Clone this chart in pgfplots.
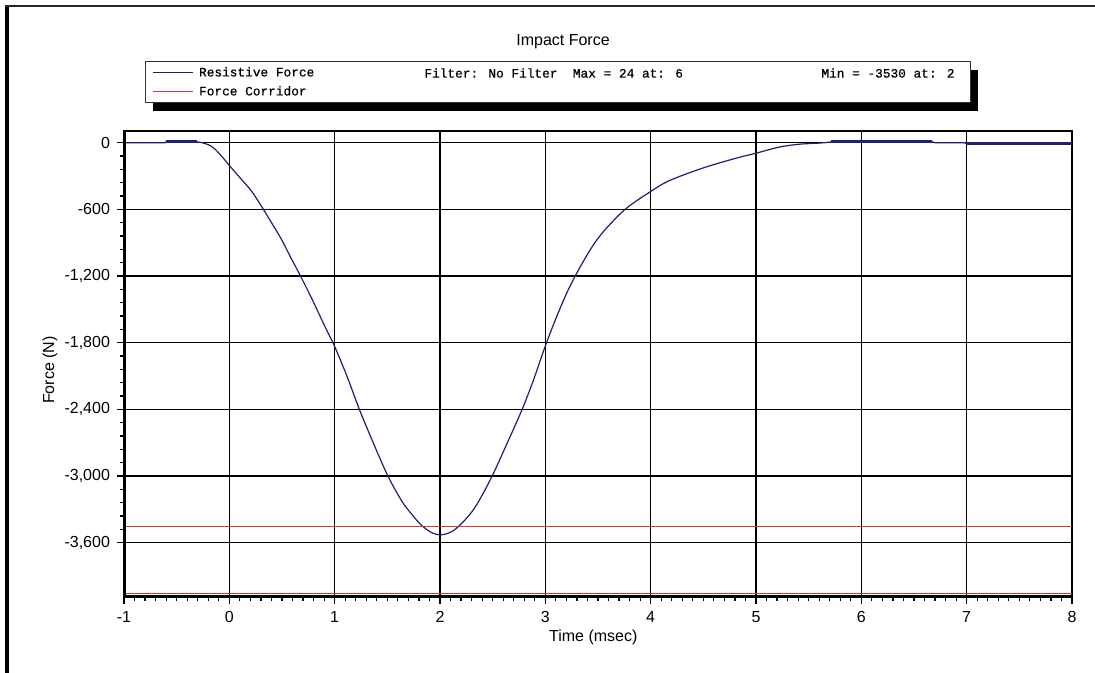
\documentclass[border=0pt]{standalone}
\usepackage{fontspec}
\setmainfont{Liberation Sans}
\newfontfamily\legfont[FakeBold=0.6]{Liberation Mono}
\usepackage{pgfplots}
\pgfplotsset{compat=1.18}
\definecolor{curveblue}{RGB}{30,30,115}
\definecolor{corrred}{RGB}{205,55,55}
\begin{document}
\begin{tikzpicture}
\path[use as bounding box] (0pt,0pt) rectangle (547.5pt,-336.5pt);
% outer frame
\draw[line width=2pt, black] (3.5pt,-2.5pt) -- (3.5pt,-340pt);
\draw[line width=1pt, black!85] (2.5pt,-3pt) -- (550pt,-3pt);
% title
\node[font=\fontsize{8}{9.6}\selectfont] at (281.5pt,-21pt) {Impact Force};
% legend box with shadow
\fill[black] (76.5pt,-35pt) rectangle (489pt,-55.5pt);
\draw[fill=white, line width=0.5pt, draw=black!80] (72.5pt,-31pt) rectangle (485pt,-51.5pt);
\node[anchor=west, inner sep=0pt, font=\legfont\fontsize{6.4}{7}\selectfont] at (212pt,-36.5pt) {Filter: No Filter\ \ Max = 24 at: 6};
\node[anchor=west, inner sep=0pt, font=\legfont\fontsize{6.4}{7}\selectfont] at (410.5pt,-36.5pt) {Min = -3530 at: 2};
\begin{axis}[
  at={(62pt,-298.5pt)}, anchor=south west,
  scale only axis, width=474pt, height=233pt,
  xmin=-1, xmax=8, ymin=-4090, ymax=105,
  xtick={-1,0,1,2,3,4,5,6,7,8},
  xticklabels={-1,0,1,2,3,4,5,6,7,8},
  minor x tick num=9,
  ytick={-3600,-3000,-2400,-1800,-1200,-600,0},
  yticklabels={{-3,600},{-3,000},{-2,400},{-1,800},{-1,200},{-600},{0}},
  minor y tick num=4,
  xtick pos=bottom, ytick pos=left,
  tick align=outside,
  major tick length=3.5pt, minor tick length=2pt,
  every tick/.style={black, line width=0.6pt},
  grid=major, major grid style={black, line width=0.6pt},
  axis line style={black, line width=0.6pt},
  tick label style={font=\fontsize{8}{9.6}\selectfont},
  xlabel={Time (msec)}, ylabel={Force (N)},
  every axis x label/.style={at={(axis description cs:0.495,-0.086)}, anchor=center, font=\fontsize{8}{9.6}\selectfont},
  every axis y label/.style={at={(axis description cs:-0.078,0.487)}, anchor=center, rotate=90, font=\fontsize{8}{9.6}\selectfont},
  legend style={at={(axis description cs:0.0292,1.1395)}, anchor=north west, draw=none, fill=none,
    font=\legfont\fontsize{6.4}{7}\selectfont, inner sep=0pt, row sep=3.5pt, column sep=2.8pt,
    nodes={inner sep=0pt, text height=5pt, text depth=1pt}},
  legend cell align=left,
  legend image code/.code={\draw[#1, line width=0.7pt] (0pt,0pt) -- (20pt,0pt);},
]
\addplot[curveblue, line width=0.6pt, smooth, tension=0.55] coordinates {
(-0.31,6) (-0.27,2) (-0.2,-18) (-0.14,-55) (-0.07,-125)
(0,-205) (0.1,-315) (0.21,-435) (0.32,-595) (0.4,-720) (0.49,-862) (0.58,-1028)
(0.68,-1208) (0.79,-1418) (0.9,-1640) (1.0,-1835) (1.12,-2110) (1.23,-2390)
(1.35,-2665) (1.5,-2990) (1.63,-3215) (1.71,-3320) (1.82,-3440) (1.92,-3510)
(2.0,-3530) (2.08,-3515) (2.17,-3460) (2.32,-3300) (2.48,-3030) (2.64,-2700)
(2.78,-2400) (2.89,-2130) (3.0,-1830) (3.11,-1560) (3.22,-1320) (3.33,-1120)
(3.46,-915) (3.58,-770) (3.77,-590) (4.0,-440) (4.17,-345) (4.49,-230) (4.81,-140)
(5.0,-95) (5.22,-40) (5.41,-14) (5.6,-4) (5.71,6)
};
\addlegendentry{Resistive Force}
\addplot[corrred, line width=0.7pt] coordinates {(-1,-3455) (8,-3455)};
\addlegendentry{Force Corridor}
\addplot[corrred, line width=0.7pt, forget plot] coordinates {(-1,-4058) (8,-4058)};
\addplot[curveblue, line width=0.6pt, forget plot] coordinates {(-1,0) (-0.61,0) (-0.6,8)};
\addplot[curveblue, line width=0.6pt, forget plot] coordinates {(6.67,8) (6.7,0) (6.98,0) (7.0,-10)};
\addplot[curveblue, line width=1.4pt, forget plot] coordinates {(-0.6,8) (-0.31,8)};
\addplot[curveblue, line width=1.4pt, forget plot] coordinates {(5.71,8) (6.67,8)};
\addplot[curveblue, line width=1.4pt, forget plot] coordinates {(7.0,-10) (8.0,-10)};
\draw[line width=2pt, black] (rel axis cs:0,0) -- (rel axis cs:0,1);
\draw[line width=2pt, black] (rel axis cs:0,0) -- (rel axis cs:1,0);
\end{axis}
\end{tikzpicture}
\end{document}
